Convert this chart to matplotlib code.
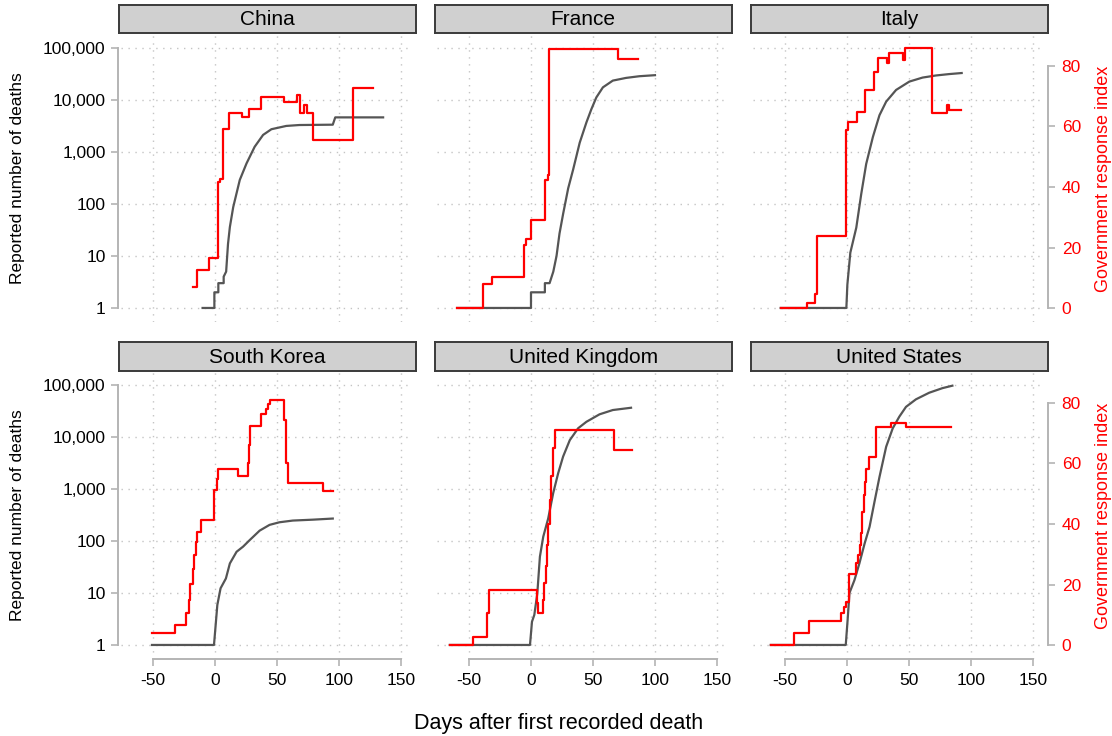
import matplotlib.pyplot as plt
from matplotlib.ticker import NullLocator

plt.rcParams['font.family'] = ['Liberation Sans', 'DejaVu Sans']
plt.rcParams['axes.unicode_minus'] = False

countries = ['China', 'France', 'Italy', 'South Korea', 'United Kingdom', 'United States']

# cumulative reported deaths (log axis)
china_death_days = [-10, -0.5, -0.5, 2.7, 2.7, 7, 7, 9, 10.5, 12, 14.7, 20, 25.4, 32, 38.8, 45.5, 57.5, 68, 95, 97, 135.6]
china_death_vals = [1, 1, 2, 2, 3, 3, 4, 5, 17, 36, 87, 290, 600, 1260, 2130, 2740, 3170, 3300, 3350, 4630, 4630]
france_death_days = [-59.6, 0, 0, 11.2, 11.2, 15, 18, 20.6, 23, 26, 30, 34, 39.3, 44.7, 48.7, 52.7, 58, 66, 76.7, 87.4, 100]
france_death_vals = [1, 1, 2, 2, 3, 3, 5, 10, 27, 66, 200, 460, 1510, 3700, 6650, 11200, 17500, 23600, 26600, 28650, 30000]
italy_death_days = [-53.5, -0.5, 0.3, 2.7, 7.5, 11.5, 15.5, 20.9, 26.2, 31.6, 39.6, 50.3, 61, 71.7, 82.4, 92.5]
italy_death_vals = [1, 1, 2.8, 11.6, 35, 156, 590, 1950, 5100, 9300, 15600, 22600, 27000, 29600, 31500, 33000]
korea_death_days = [-50.8, -0.8, 1.9, 4.5, 8.8, 12, 17.4, 22.7, 28, 36, 44, 52, 62.8, 79, 95]
korea_death_vals = [1, 1, 5.9, 12.3, 19, 37, 62, 78, 104, 158, 204, 229, 247, 257, 270]
uk_death_days = [-65.5, -0.8, 0.8, 2.7, 5.1, 7.2, 9.9, 13.9, 17.9, 21.9, 25.9, 31.3, 38, 44.7, 55.3, 66, 80.7]
uk_death_vals = [1, 1, 2.8, 3.8, 9.8, 50, 121, 272, 830, 2000, 4200, 8700, 14700, 19600, 27300, 33000, 36500]
us_death_days = [-61.5, -1, 0.5, 2, 6, 10, 14.2, 18.2, 22.2, 26.2, 31.6, 36.9, 42.2, 47.6, 55.6, 66.3, 77, 85]
us_death_vals = [1, 1, 3, 10, 17.6, 37, 89, 187, 570, 1700, 6500, 14700, 24600, 38000, 53000, 71000, 87000, 97000]

# government response index (right axis), step series
china_gov_days = [-18, -14.7, -4.5, 2.4, 4, 6.7, 11.5, 22, 27.3, 36.9, 56, 66.3, 68.4, 71.4, 74.1, 78.9, 111, 127.5]
china_gov_vals = [6.9, 12.6, 16.4, 41.5, 42.5, 59.3, 64.5, 63, 65.9, 69.7, 68.2, 70.3, 64.5, 67, 64.5, 55.4, 72.8, 72.8]
france_gov_days = [-59.6, -38.8, -31.5, -5.6, -4, 0, 11.2, 13.4, 14.7, 70, 86]
france_gov_vals = [0, 7.8, 10.2, 20.7, 22.9, 29.2, 42.4, 44, 85.5, 82.2, 82.2]
italy_gov_days = [-53.5, -32.6, -26, -23.8, -1, 0.8, 8.3, 14.2, 21.4, 24.9, 32.2, 33.7, 45, 46.5, 68.2, 81, 82.4, 91.7]
italy_gov_vals = [0, 1.8, 4.5, 23.9, 58.7, 61.5, 64.8, 72, 77.9, 82.5, 80.8, 84.4, 81.9, 85.8, 64.6, 67, 65.4, 65.4]
korea_gov_days = [-50.8, -32, -23.3, -21, -20, -18, -16.8, -15.5, -14.7, -11.2, -0.5, 1.5, 2.7, 18.7, 26.7, 27.5, 28.5,
                  37.4, 41.4, 43, 44.7, 55.6, 57.5, 58.8, 86.9, 95]
korea_gov_vals = [4.1, 6.6, 10.5, 15, 20.2, 25, 29.8, 34, 37.5, 41.3, 51.2, 55, 58.3, 56, 60, 66, 72.4,
                  76.3, 77.9, 79.5, 80.8, 74.4, 60, 53.4, 50.9, 50.9]
uk_gov_days = [-65.5, -46.8, -35.6, -33.5, 5.1, 6, 9.4, 10.5, 12, 13, 14, 15, 16, 17.4, 19.3, 66.8, 81.3]
uk_gov_vals = [0, 2.75, 10.5, 18.2, 14, 10.5, 15, 20.6, 26, 33, 40, 48, 56, 65, 71.1, 64.5, 64.5]
us_gov_days = [-61.5, -42.5, -30.5, -5, -2.5, -0.5, 1.6, 7.5, 9.1, 10.5, 11.5, 12.5, 13.4, 14.5, 15.5, 17.6,
               23.5, 35.6, 47.6, 83.7]
us_gov_vals = [0, 4.1, 8, 10.5, 12.5, 14.3, 23.5, 27, 29.8, 33, 37, 44, 49.6, 54, 58, 62,
               72, 73.3, 72, 72]

deaths = {
    'China': (china_death_days, china_death_vals),
    'France': (france_death_days, france_death_vals),
    'Italy': (italy_death_days, italy_death_vals),
    'South Korea': (korea_death_days, korea_death_vals),
    'United Kingdom': (uk_death_days, uk_death_vals),
    'United States': (us_death_days, us_death_vals),
}
gov = {
    'China': (china_gov_days, china_gov_vals),
    'France': (france_gov_days, france_gov_vals),
    'Italy': (italy_gov_days, italy_gov_vals),
    'South Korea': (korea_gov_days, korea_gov_vals),
    'United Kingdom': (uk_gov_days, uk_gov_vals),
    'United States': (us_gov_days, us_gov_vals),
}

log_ticks = [1, 10, 100, 1000, 10000, 100000]
x_ticks = [-50, 0, 50, 100, 150]
gov_ticks = [0, 20, 40, 60, 80]

W, H = 1112, 736
fig = plt.figure(figsize=(W / 100, H / 100), dpi=100)
col_x = [121, 437, 753]
rows = [(35, 322), (372, 659)]
strips = [(5, 33), (342, 371)]
axcol = '#b4b4b4'

for i, name in enumerate(countries):
    r, c = i // 3, i % 3
    top, bot = rows[r]
    ax = fig.add_axes([col_x[c] / W, 1 - bot / H, 292 / W, (bot - top) / H])
    ax.set_yscale('log')
    ax.set_ylim(10 ** -0.27, 10 ** 5.25)
    ax.set_xlim(-75.8, 159.7)
    ax.set_yticks(log_ticks)
    ax.yaxis.set_minor_locator(NullLocator())
    ax.set_yticklabels(['{:,}'.format(v) for v in log_ticks])
    ax.set_xticks(x_ticks)
    ax.grid(True, color='#c4c4c4', linestyle=(0, (1, 4)), linewidth=1.0)
    d, v = deaths[name]
    ax.plot(d, v, color='#555555', lw=1.6, zorder=3)

    ax2 = ax.twinx()
    ax2.set_ylim(-4.6, 90.2)
    gd, gv = gov[name]
    ax2.plot(gd, gv, color='red', lw=1.6, drawstyle='steps-post')

    for s in list(ax.spines.values()) + list(ax2.spines.values()):
        s.set_visible(False)
        s.set_color(axcol)
        s.set_linewidth(1.4)
    ax.tick_params(colors=axcol, labelcolor='black', labelsize=12.5, length=5, width=1.2)
    ax2.tick_params(colors=axcol, labelcolor='red', labelsize=12.5, length=5, width=1.2)

    if c == 0:
        ax.spines['left'].set_visible(True)
        ax.spines['left'].set_bounds(1, 100000)
        ax.spines['left'].set_position(('outward', 2))
        ax.tick_params(axis='y', pad=4)
    else:
        ax.tick_params(axis='y', left=False, labelleft=False)
    if r == 1:
        ax.spines['bottom'].set_visible(True)
        ax.spines['bottom'].set_bounds(-50, 150)
        ax.tick_params(axis='x', pad=5)
    else:
        ax.tick_params(axis='x', bottom=False, labelbottom=False)
    if c == 2:
        ax2.spines['right'].set_visible(True)
        ax2.spines['right'].set_bounds(0, 80)
        ax2.spines['right'].set_position(('outward', 2))
        ax2.set_yticks(gov_ticks)
        ax2.tick_params(axis='y', pad=5)
        fig.text(1103 / W, 1 - (top + bot) / 2 / H, 'Government response index', color='red',
                 rotation=90, ha='center', va='center', fontsize=13)
    else:
        ax2.tick_params(axis='y', right=False, labelright=False)
    if c == 0:
        fig.text(18 / W, 1 - (top + bot) / 2 / H, 'Reported number of deaths',
                 rotation=90, ha='center', va='center', fontsize=12.5)

    st, sb = strips[r]
    sax = fig.add_axes([(col_x[c] - 2) / W, 1 - sb / H, 296.5 / W, (sb - st) / H])
    sax.set_facecolor('#d0d0d0')
    sax.set_xticks([])
    sax.set_yticks([])
    for s in sax.spines.values():
        s.set_color('#3a3a3a')
        s.set_linewidth(1.4)
    sax.text(0.5, 0.47, name, ha='center', va='center', fontsize=15, transform=sax.transAxes)

fig.text(559 / W, 1 - 724 / H, 'Days after first recorded death', ha='center', va='center', fontsize=15.5)

fig.savefig('out.png', dpi=100)
